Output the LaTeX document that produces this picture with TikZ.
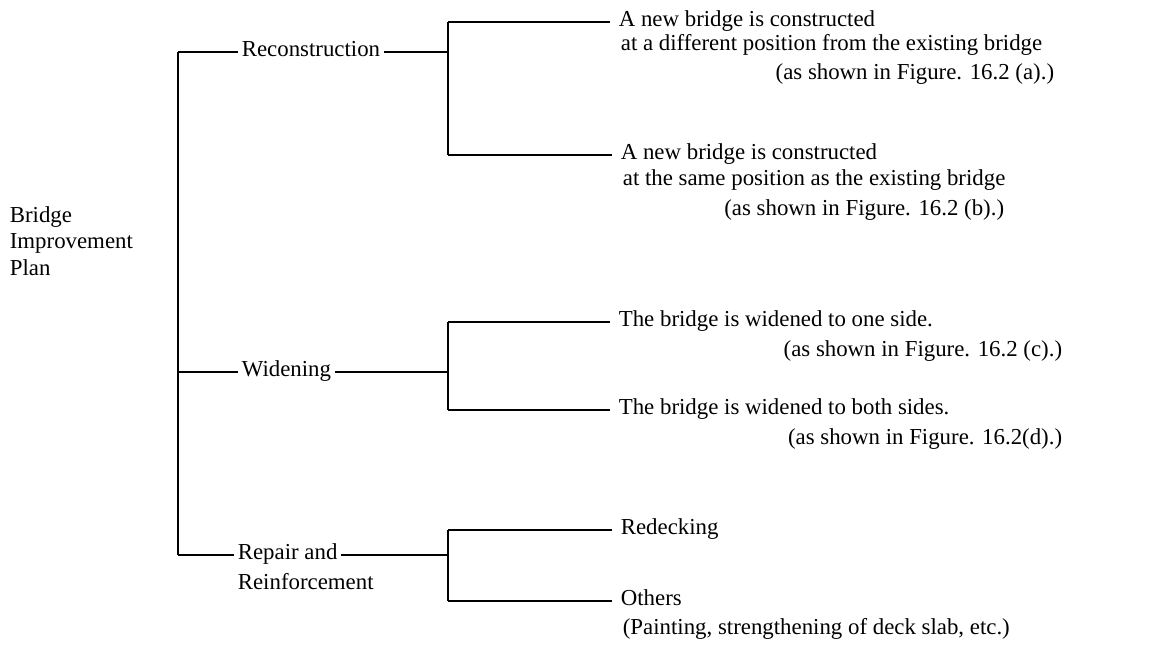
\documentclass[tikz,border=0pt]{standalone}
\usepackage{fontspec}
\setmainfont{Liberation Serif}
\usetikzlibrary{positioning}
\tikzset{
txt/.style={font=\fontsize{13}{15}\selectfont, inner sep=2pt},
lbl/.style={txt, anchor=west, text height=1.6ex, text depth=.45ex},
note/.style={lbl, anchor=east},
link/.style={line width=.6pt},
brace/.style={line width=1.1pt}}

\begin{document}
\begin{tikzpicture}[x=0.02cm, y=-0.02cm]
\useasboundingbox (0,0) rectangle (1150,655);
\node[txt, anchor=west, align=left] (plan) at (6,241) {Bridge\\Improvement\\Plan};

% second level
\node[lbl] (rec) at (238,52) {Reconstruction};
\node[lbl] (wid) at (238,372) {Widening};
\node[lbl] (rep) at (234,555) {Repair and};
\node[lbl] (repb) at (234,585) {Reinforcement};

% leaves
\node[lbl] (la) at (615,22) {A new bridge is constructed};
\node[lbl] (la2) at (617,46) {at a different position from the existing bridge};
\node[note] (na) at (1058,75) {(as shown in Figure. 16.2 (a).)};
\node[lbl] (lb) at (617,155) {A new bridge is constructed};
\node[lbl] (lb2) at (619,181) {at the same position as the existing bridge};
\node[note] (nb) at (1008,211) {(as shown in Figure. 16.2 (b).)};
\node[lbl] (lc) at (615,322) {The bridge is widened to one side.};
\node[note] (nc) at (1066,352) {(as shown in Figure. 16.2 (c).)};
\node[lbl] (ld) at (615,410) {The bridge is widened to both sides.};
\node[note] (nd) at (1066,440) {(as shown in Figure. 16.2(d).)};
\node[lbl] (le) at (617,530) {Redecking};
\node[lbl] (lf) at (617,601) {Others};
\node[lbl] (nf) at (619,630) {(Painting, strengthening of deck slab, etc.)};

% trunk and brackets
\coordinate (t) at (178,0);
\coordinate (k) at (448,0);
\draw[brace] (t |- rec.west) -- (t |- rep.west);
\foreach \n in {rec,wid,rep}
  \draw[link] (t |- \n.west) -- (\n.west);
\draw[brace] (k |- la.west) -- (k |- lb.west);
\draw[brace] (k |- lc.west) -- (k |- ld.west);
\draw[brace] (k |- le.west) -- (k |- lf.west);
\foreach \n in {rec,wid,rep}
  \draw[link] (\n.east) -- (k |- \n.east);
\foreach \n in {la,lb,lc,ld,le,lf}
  \draw[link, shorten >=3pt] (k |- \n.west) -- (\n.west);
\end{tikzpicture}
\end{document}
